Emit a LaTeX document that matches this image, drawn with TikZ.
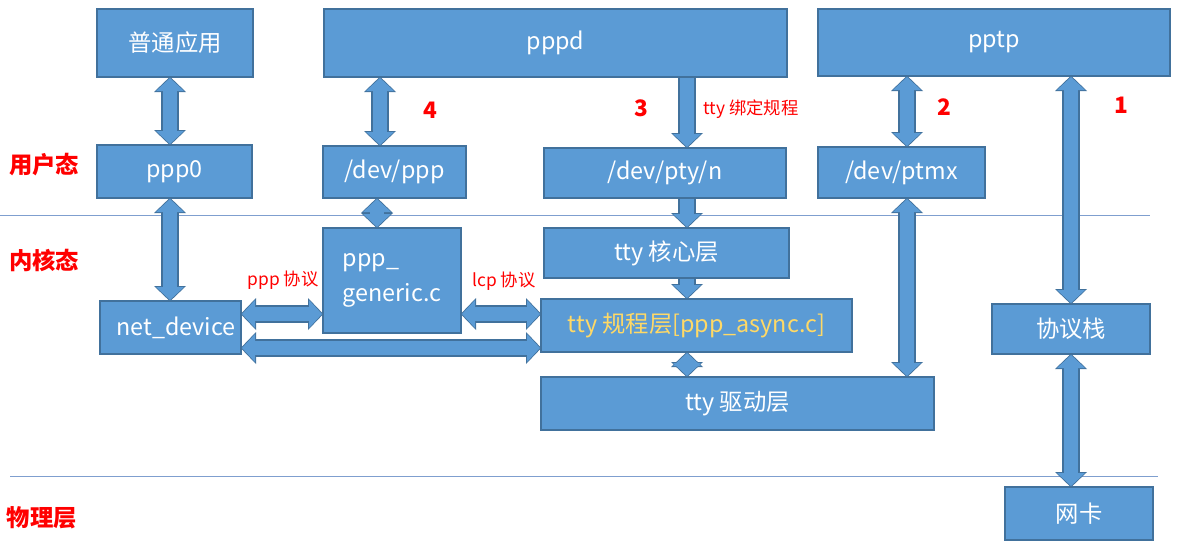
\documentclass[tikz,border=0pt]{standalone}
\usepackage{fontspec}
\setmainfont{Noto Sans CJK SC}
\usepackage{xcolor}
\usepackage{tikz}
\usetikzlibrary{arrows.meta}
\definecolor{boxblue}{HTML}{5B9BD5}
\definecolor{boxedge}{HTML}{41719C}
\definecolor{lblred}{HTML}{FF0000}
\definecolor{txtyellow}{HTML}{FFD966}
\definecolor{sepblue}{HTML}{7F9FCF}
\tikzset{
  blknode/.style={draw=boxedge,fill=boxblue,line width=1.5pt,text=white,inner sep=0pt,font=\fontsize{17.5}{21}\selectfont},
  sz/.style n args={2}{minimum width=#1*0.75pt,minimum height=#2*0.75pt},
  lyrlabel/.style={text=lblred,inner sep=0pt,font=\fontsize{17.5}{21}\selectfont\bfseries},
  numlabel/.style={text=lblred,inner sep=0pt,font=\fontsize{17}{20}\selectfont\bfseries},
  notelabel/.style={text=lblred,inner sep=0pt,font=\fontsize{13}{15}\selectfont},
  sepline/.style={draw=sepblue,line width=0.75pt},
  blkedge/.style={line width=10.5pt,draw=boxblue},
  dbledge/.style={blkedge,{Triangle[width=21pt,length=9.75pt,line width=0pt]}-{Triangle[width=21pt,length=9.75pt,line width=0pt]},
    preaction={draw=boxedge,line width=13pt,{Triangle[width=24pt,length=11.5pt,line width=0pt]}-{Triangle[width=24pt,length=11.5pt,line width=0pt]},shorten <=-1pt,shorten >=-1pt}},
  oneedge/.style={blkedge,-{Triangle[width=21pt,length=9.75pt,line width=0pt]},
    preaction={draw=boxedge,line width=13pt,-{Triangle[width=24pt,length=11.5pt,line width=0pt]},shorten <=-1pt,shorten >=-1pt}},
}
\begin{document}
\begin{tikzpicture}[x=0.75pt,y=-0.75pt]
  \useasboundingbox (0,0) rectangle (1180,554);
  % layer separators
  \draw[sepline] (0,215) -- (1150,215);
  \draw[sepline] (10,476) -- (1158,476);
  % boxes
  \node[blknode,sz={156}{68}] (nApp) at (175,43) {普通应用};
  \node[blknode,sz={463}{68}] (nPppd) at (555.5,43) {pppd};
  \node[blknode,sz={352}{67}] (nPptp) at (994,42.5) {pptp};
  \node[blknode,sz={155}{53}] (nPpp0) at (174.5,171.5) {ppp0};
  \node[blknode,sz={143}{52}] (nDevPpp) at (394.5,172) {/dev/ppp};
  \node[blknode,sz={242}{50}] (nPty) at (665,173) {/dev/pty/n};
  \node[blknode,sz={167}{51}] (nPtmx) at (901.5,172.5) {/dev/ptmx};
  \node[blknode,sz={138}{105},align=left,font=\fontsize{17.5}{26}\selectfont] (nGen) at (392,280.5) {ppp\_\\generic.c};
  \node[blknode,sz={245}{50}] (nCore) at (666.5,253) {tty 核心层};
  \node[blknode,sz={141}{53}] (nNet) at (170.5,327.5) {\hspace*{8pt}net\_device};
  \node[blknode,sz={311}{53},text=txtyellow] (nLdisc) at (696.5,325.5) {tty 规程层[ppp\_async.c]};
  \node[blknode,sz={393}{53}] (nDrv) at (737.5,403.5) {tty 驱动层};
  \node[blknode,sz={158}{50}] (nStack) at (1071,329) {协议栈};
  \node[blknode,sz={148}{53}] (nNic) at (1079,513.5) {网卡};
  % labels
  \node[lyrlabel] (lUser) at (44,165) {用户态};
  \node[lyrlabel] (lKern) at (44,260) {内核态};
  \node[lyrlabel] (lPhy) at (42,518) {物理层};
  \node[numlabel] (lFour) at (430,110) {4};
  \node[numlabel] (lThree) at (641,108) {3};
  \node[numlabel] (lTwo) at (944,107) {2};
  \node[numlabel] (lOne) at (1121,105) {1};
  \node[notelabel] (lBind) at (751,109) {tty 绑定规程};
  \node[notelabel] (lPpp) at (283,280) {ppp 协议};
  \node[notelabel] (lLcp) at (504,281) {lcp 协议};
  % arrow axes
  \coordinate (xApp) at (170,0);
  \coordinate (xPpp) at (380,0);
  \coordinate (xGen) at (377,0);
  \coordinate (xPty) at (687,0);
  \coordinate (xPtmx) at (907,0);
  \coordinate (xStack) at (1071,0);
  \coordinate (yUp) at (0,314);
  \coordinate (yLow) at (0,348);
  % connectors
  \draw[dbledge] (nApp.south -| xApp) -- (nPpp0.north -| xApp);
  \draw[dbledge] (nPppd.south -| xPpp) -- (nDevPpp.north -| xPpp);
  \draw[oneedge] (nPppd.south -| xPty) -- (nPty.north -| xPty);
  \draw[dbledge] (nPptp.south -| xPtmx) -- (nPtmx.north -| xPtmx);
  \draw[dbledge] (nPptp.south -| xStack) -- (nStack.north -| xStack);
  \draw[dbledge] (nPpp0.south -| xApp) -- (nNet.north -| xApp);
  \draw[dbledge] (nDevPpp.south -| xGen) -- (nGen.north -| xGen);
  \draw[oneedge] (nPty.south -| xPty) -- (nCore.north -| xPty);
  \draw[oneedge] (nCore.south -| xPty) -- (nLdisc.north -| xPty);
  \draw[dbledge] (nLdisc.south -| xPty) -- (nDrv.north -| xPty);
  \draw[dbledge] (nPtmx.south -| xPtmx) -- (nDrv.north -| xPtmx);
  \draw[dbledge] (nStack.south -| xStack) -- (nNic.north -| xStack);
  \draw[dbledge] (nNet.east |- yUp) -- (nGen.west |- yUp);
  \draw[dbledge] (nGen.east |- yUp) -- (nLdisc.west |- yUp);
  \draw[dbledge] (nNet.east |- yLow) -- (nLdisc.west |- yLow);
\end{tikzpicture}
\end{document}
